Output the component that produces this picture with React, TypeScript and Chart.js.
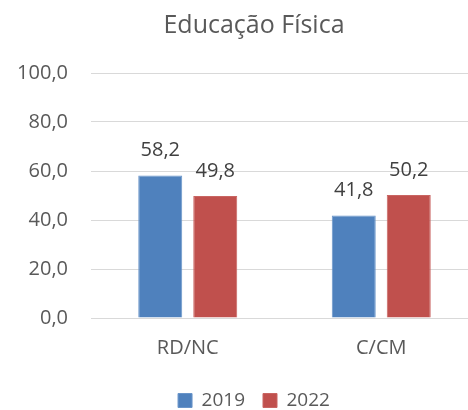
import React, { useEffect, useRef } from "react";
import { Chart, registerables } from "chart.js";

Chart.register(...registerables);

const categories = ["RD/NC", "C/CM"];
const series2019 = [58.2, 41.8];
const series2022 = [49.8, 50.2];
const seriesLabels = ["2019", "2022"];
const titleText = "Educação Física";

const FONT = "'Open Sans', sans-serif";
const fmt = (v: number) => v.toFixed(1).replace(".", ",");

const valueLabels = {
  id: "valueLabels",
  afterDatasetsDraw(chart: any) {
    const ctx = chart.ctx;
    ctx.save();
    ctx.font = `20px ${FONT}`;
    ctx.fillStyle = "#404040";
    ctx.textAlign = "center";
    ctx.textBaseline = "middle";
    chart.data.datasets.forEach((ds: any, di: number) => {
      const meta = chart.getDatasetMeta(di);
      meta.data.forEach((bar: any, i: number) => {
        ctx.fillText(fmt(ds.data[i]), bar.x, bar.y - 25);
      });
    });
    ctx.restore();
  },
};

export default function App() {
  const ref = useRef<HTMLCanvasElement>(null);
  useEffect(() => {
    document.body.style.margin = "0";
    document.body.style.overflow = "hidden";
    const chart = new Chart(ref.current!, {
      type: "bar",
      data: {
        labels: categories,
        datasets: [
          {
            label: seriesLabels[0],
            data: series2019,
            backgroundColor: "#4f81bd",
            borderColor: "#6a95c9",
            borderWidth: 1,
            categoryPercentage: 0.5685,
            barPercentage: 0.8,
          },
          {
            label: seriesLabels[1],
            data: series2022,
            backgroundColor: "#c0504d",
            borderColor: "#c96562",
            borderWidth: 1,
            categoryPercentage: 0.5685,
            barPercentage: 0.8,
          },
        ],
      },
      options: {
        responsive: false,
        animation: false,
        layout: { padding: { left: 0, right: 0, top: 0, bottom: -10 } },
        plugins: {
          title: {
            display: true,
            text: titleText,
            color: "#595959",
            font: { family: FONT, size: 25, weight: "normal" },
            padding: { top: 11, bottom: 32 },
          },
          legend: {
            position: "bottom",
            labels: {
              boxWidth: 14,
              boxHeight: 14,
              padding: 18,
              color: "#595959",
              font: { family: FONT, size: 19 },
            },
          },
          tooltip: { enabled: false },
        },
        scales: {
          x: {
            grid: { display: false, drawTicks: false },
            border: { display: false },
            ticks: { color: "#595959", font: { family: FONT, size: 20 }, padding: 18 },
            afterFit: (s: any) => {
              s.height = 55;
            },
          },
          y: {
            min: 0,
            max: 100,
            ticks: {
              stepSize: 20,
              color: "#595959",
              font: { family: FONT, size: 20 },
              padding: 23,
              callback: (v: any) => fmt(Number(v)),
            },
            grid: { color: "#d9d9d9", lineWidth: 1, drawTicks: false },
            border: { display: false },
            afterFit: (s: any) => {
              s.width = 91;
            },
          },
          yRight: {
            type: "linear",
            position: "right",
            min: 0,
            max: 100,
            grid: { display: false, drawTicks: false },
            border: { display: false },
            ticks: { display: false },
            afterFit: (s: any) => {
              s.width = 30;
            },
          },
        },
      },
      plugins: [valueLabels],
    });
    return () => chart.destroy();
  }, []);
  return <canvas ref={ref} width={508} height={410} style={{ display: "block" }} />;
}
